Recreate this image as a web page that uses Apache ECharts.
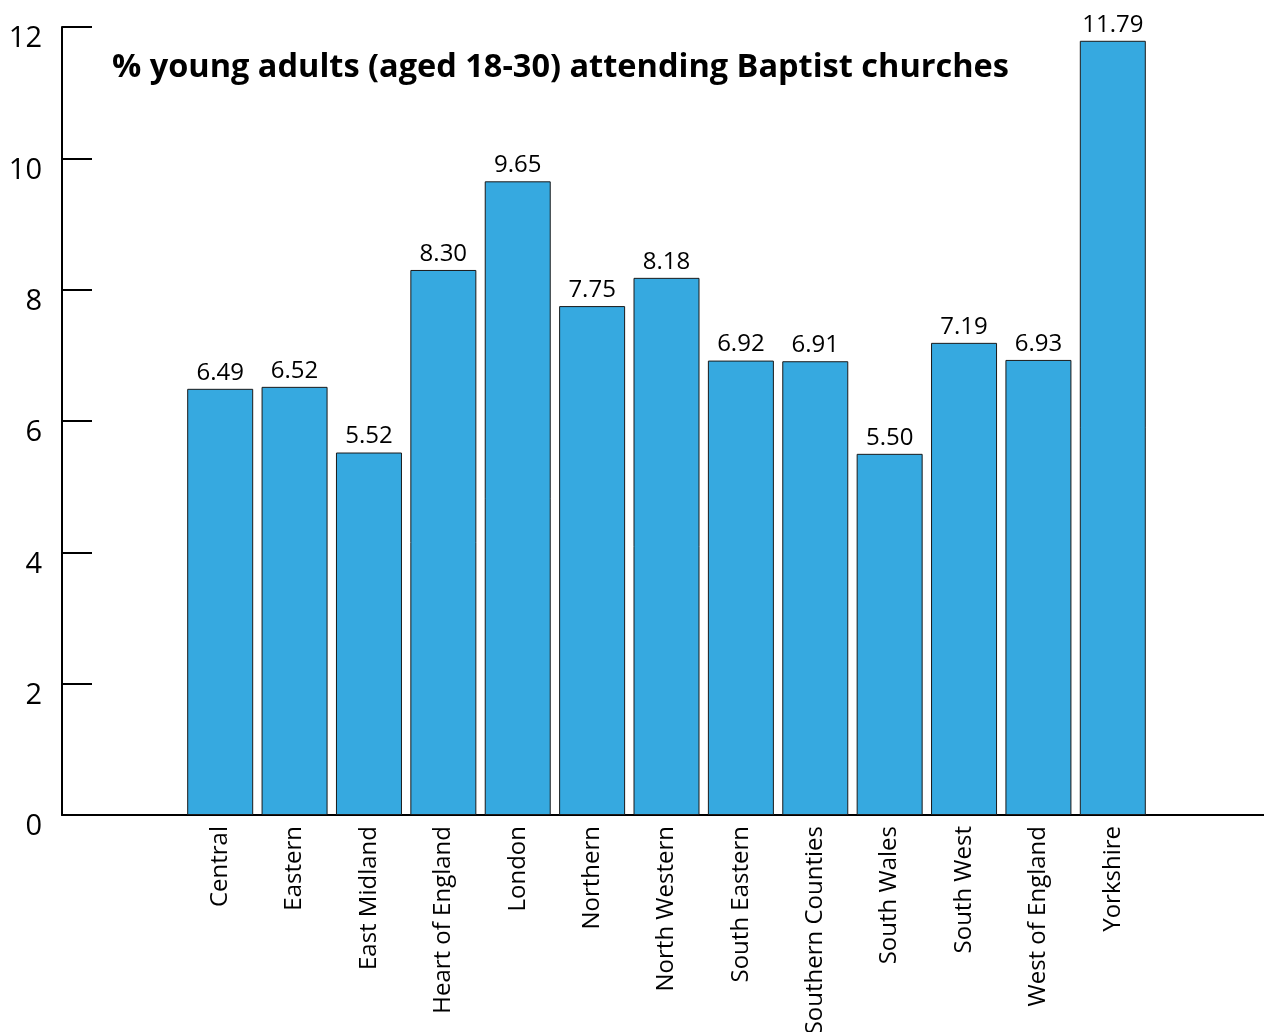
<!DOCTYPE html>
<html>
<head>
<meta charset="utf-8">
<script src="https://cdn.jsdelivr.net/npm/echarts@6/dist/echarts.min.js"></script>
<style>
  html, body { margin: 0; padding: 0; background: #fff; }
  #chart { width: 1264px; height: 1032px; }
</style>
</head>
<body>
<div id="chart"></div>
<script>
// data
var regions = ['Central', 'Eastern', 'East Midland', 'Heart of England', 'London', 'Northern',
  'North Western', 'South Eastern', 'Southern Counties', 'South Wales', 'South West',
  'West of England', 'Yorkshire'];
var youngPct = [6.49, 6.52, 5.52, 8.30, 9.65, 7.75, 8.18, 6.92, 6.91, 5.50, 7.19, 6.93, 11.79];
var yTicks = [0, 2, 4, 6, 8, 10, 12];

var chart = echarts.init(document.getElementById('chart'));
var font = 'Open Sans';

var option = {
  animation: false,
  title: {
    text: '% young adults (aged 18-30) attending Baptist churches',
    left: 107, top: 46,
    textStyle: { fontFamily: font, fontWeight: 'bold', fontSize: 32.5, color: '#000' }
  },
  grid: [
    // grid 0: the axes frame
    { left: 62, right: 0, top: 27, bottom: 217, outerBoundsMode: 'none' },
    // grid 1: the bars (labels may run off the bottom edge, as in the original)
    { left: 183, right: 114, top: 27, bottom: 217, outerBoundsMode: 'none' }
  ],
  xAxis: [
    {
      gridIndex: 0, type: 'category', data: [''],
      axisLine: { lineStyle: { color: '#000', width: 2 } },
      axisTick: { show: false }, axisLabel: { show: false }
    },
    {
      gridIndex: 1, type: 'category', data: regions,
      axisLine: { show: false }, axisTick: { show: false },
      axisLabel: {
        interval: 0, rotate: 90, margin: 11,
        fontFamily: font, fontSize: 24, color: '#000'
      }
    }
  ],
  yAxis: [
    {
      gridIndex: 0, type: 'value', min: 0, max: 12, interval: 2,
      axisLine: { show: true, lineStyle: { color: '#000', width: 2 } },
      axisTick: { show: true, inside: true, length: 30, lineStyle: { color: '#000', width: 2 } },
      splitLine: { show: false },
      axisLabel: {
        margin: 20, fontFamily: font, fontSize: 29, color: '#000',
        verticalAlign: 'top', lineHeight: 24,
        formatter: function (v) { return yTicks.indexOf(v) >= 0 ? String(v) : ''; }
      }
    },
    {
      gridIndex: 1, type: 'value', min: 0, max: 12, interval: 2,
      axisLine: { show: false }, axisTick: { show: false },
      axisLabel: { show: false }, splitLine: { show: false }
    }
  ],
  series: [{
    type: 'bar',
    xAxisIndex: 1, yAxisIndex: 1,
    data: youngPct,
    barWidth: 66,
    itemStyle: { color: '#36a9e0', borderColor: '#1a1a1a', borderWidth: 1 },
    label: {
      show: true, position: 'top', distance: 4,
      fontFamily: font, fontSize: 24, color: '#000',
      formatter: function (p) { return p.value.toFixed(2); }
    }
  }]
};

chart.setOption(option);
</script>
</body>
</html>
